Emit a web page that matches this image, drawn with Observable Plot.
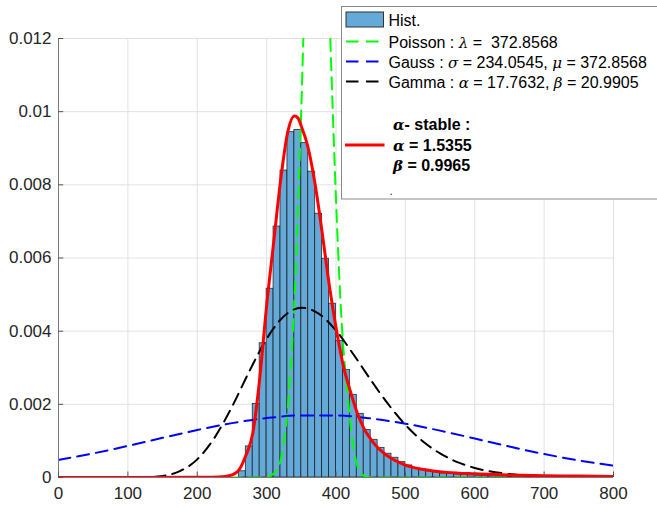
<!DOCTYPE html>
<html>
<head>
<meta charset="utf-8">
<script src="https://cdn.jsdelivr.net/npm/d3@7"></script>
<script src="https://cdn.jsdelivr.net/npm/@observablehq/plot@0.6"></script>
<style>
  html, body { margin: 0; padding: 0; background: white; overflow: hidden; }
  #wrap { position: relative; width: 657px; height: 508px; }
  #legend { position: absolute; left: 341px; top: 6px; }
</style>
</head>
<body>
<div id="wrap"></div>
<script>
// ---- axis ticks ----
const xTicks = [0, 100, 200, 300, 400, 500, 600, 700, 800];
const yTicks = [0, 0.002, 0.004, 0.006, 0.008, 0.01, 0.012];

// ---- histogram (bin start, density), bin width 10 ----
const binWidth = 10;
const binStart = [260, 270, 280, 290, 300, 310, 320, 330, 340, 350,
                  360, 370, 380, 390, 400, 410, 420, 430, 440, 450,
                  460, 470, 480, 490, 500, 510, 520, 530, 540, 550,
                  560, 570, 580, 590, 600, 610, 620, 630, 640, 650,
                  660, 670, 680, 690];
const binDensity = [0.00017, 0.00085, 0.00201, 0.00367, 0.00516, 0.00686, 0.00839, 0.00944, 0.00950, 0.00914,
                    0.00836, 0.00721, 0.00598, 0.00475, 0.00373, 0.00294, 0.00226, 0.00174, 0.00130, 0.00103,
                    0.00081, 0.00065, 0.00054, 0.00042, 0.00033, 0.00026, 0.00022, 0.00017, 0.00014, 0.00011,
                    0.00010, 0.00008, 0.00007, 0.00006, 0.00005, 0.00004, 0.00004, 0.00003, 0.00003, 0.00002,
                    0.00002, 0.00002, 0.00001, 0.00001];

// ---- Poisson fit (green dashed) ----
const poissonX = [0, 200, 280, 290, 300, 310, 320, 325, 330, 335, 340, 345, 350, 355, 360, 372,
                  385, 390, 395, 400, 406, 410, 416, 423, 433, 440, 450, 500, 800];
const poissonY = [0, 0, 0, 0.000003, 0.00002, 0.0001, 0.00045, 0.0010, 0.0018, 0.0031, 0.0048, 0.0072, 0.0101, 0.0134, 0.0166, 0.0207,
                  0.0158, 0.0130, 0.0102, 0.0076, 0.0050, 0.0037, 0.0024, 0.0011, 0.0002, 0.00005, 0, 0, 0];

// ---- Gauss fit (blue dashed) ----
const gaussX = [0, 50, 100, 150, 200, 250, 300, 350, 400, 450, 500, 550, 600, 650, 700, 750, 800];
const gaussY = [0.000479, 0.000658, 0.000864, 0.001084, 0.001298, 0.001486, 0.001624, 0.001697, 0.001694,
                0.001615, 0.001471, 0.001281, 0.001065, 0.000846, 0.000642, 0.000466, 0.000322];

// ---- Gamma fit (black dashed) ----
const gammaX = [0, 100, 125, 150, 175, 200, 225, 250, 275, 300, 325, 350, 375, 400, 425, 450, 475,
                500, 525, 550, 575, 600, 650, 700, 750, 800];
const gammaY = [0, 0, 0.000005, 0.000043, 0.000174, 0.000496, 0.00109, 0.00193, 0.0029, 0.00379, 0.00441, 0.00464, 0.00448,
                0.00402, 0.00337, 0.00267, 0.00201, 0.00144, 0.00099, 0.00066, 0.00042, 0.000262, 0.0000925, 0.00003, 0.00001, 0.000003];

// ---- alpha-stable fit (red solid) ----
const stableX = [0, 100, 200, 220, 240, 250, 260, 270, 280, 290, 300, 310, 320, 330, 340, 345, 350, 360, 370,
                 380, 390, 400, 410, 420, 430, 440, 450, 460, 470, 480, 490, 500, 520, 540, 560, 600,
                 650, 700, 750, 800];
const stableY = [0, 0, 0.000005, 0.00001, 0.00003, 0.00007, 0.0002, 0.0006, 0.0012, 0.0027, 0.0047, 0.0064, 0.0081, 0.0094, 0.00988, 0.00983, 0.0096, 0.0090, 0.0080,
                 0.0067, 0.0053, 0.0041, 0.0031, 0.0024, 0.0018, 0.00135, 0.00105, 0.00082, 0.00065, 0.00052, 0.00042, 0.00034, 0.00024, 0.00018, 0.00014, 0.0001,
                 0.00007, 0.00005, 0.00004, 0.00003];

// ---- legend texts ----
const legendHist = "Hist.";
const legendPoisson = ["Poisson : ", "λ", " =  372.8568"];
const legendGauss = ["Gauss : ", "σ", " = 234.0545, ", "μ", " = 372.8568"];
const legendGamma = ["Gamma : ", "α", " = 17.7632, ", "β", " = 20.9905"];
const legendStable = [["α", "- stable :"], ["α", " = 1.5355"], ["β", " = 0.9965"]];

// ---- tables built from the arrays ----
const bins = binStart.map((s, i) => ({x1: s, x2: s + binWidth, d: binDensity[i]}));
const toPts = (xs, ys) => xs.map((x, i) => ({x, y: ys[i]}));
const poisson = toPts(poissonX, poissonY);
const gauss = toPts(gaussX, gaussY);
const gamma = toPts(gammaX, gammaY);
const stable = toPts(stableX, stableY);

const fmtY = d => d === 0 ? "0" : String(+d.toFixed(4));
const dash = "12,7";

const chart = Plot.plot({
  width: 657,
  height: 508,
  marginLeft: 58,
  marginRight: 44,
  marginTop: 38,
  marginBottom: 31,
  style: {
    fontFamily: "'Liberation Sans', Arial, Helvetica, sans-serif",
    fontSize: "17px",
    color: "#262626",
    background: "white",
    overflow: "visible"
  },
  x: {domain: [0, 800], ticks: xTicks, tickSize: 0, tickPadding: 9, tickFormat: d => String(d), label: null},
  y: {domain: [0, 0.012], ticks: yTicks, tickSize: 0, tickPadding: 7, tickFormat: fmtY, label: null},
  marks: [
    // grid
    Plot.ruleX(xTicks, {stroke: "#e2e2e2", strokeWidth: 1}),
    Plot.ruleY(yTicks, {stroke: "#e2e2e2", strokeWidth: 1}),
    // histogram
    Plot.rectY(bins, {x1: "x1", x2: "x2", y: "d", fill: "#64a9d7", stroke: "#1a1a1a", strokeWidth: 0.8, strokeOpacity: 0.9}),
    // fits
    Plot.line(poisson, {x: "x", y: "y", stroke: "#00ff00", strokeWidth: 2, strokeDasharray: dash, curve: "monotone-x", clip: true}),
    Plot.line(gauss, {x: "x", y: "y", stroke: "#0000ff", strokeWidth: 2, strokeDasharray: dash, curve: "monotone-x", clip: true}),
    Plot.line(gamma, {x: "x", y: "y", stroke: "#000000", strokeWidth: 2, strokeDasharray: dash, curve: "monotone-x", clip: true}),
    Plot.line(stable, {x: "x", y: "y", stroke: "#ff0000", strokeWidth: 3, curve: "monotone-x", clip: true}),
    // axis lines
    Plot.ruleX([0], {stroke: "#7a7a7a", strokeWidth: 1}),
    Plot.ruleY([0], {stroke: "#7a7a7a", strokeWidth: 1}),
    // inward ticks
    Plot.ruleY(yTicks, {x1: 0, x2: 7.5, stroke: "#555", strokeWidth: 1}),
    Plot.ruleX(xTicks, {y1: 0, y2: 0.00015, stroke: "#555", strokeWidth: 1})
  ]
});

const wrap = document.getElementById("wrap");
wrap.appendChild(chart);

// ---- legend overlay ----
const lg = d3.select(wrap).append("svg")
  .attr("id", "legend")
  .attr("width", 330)
  .attr("height", 195)
  .style("font-family", "'Liberation Sans', Arial, Helvetica, sans-serif")
  .style("font-size", "16px");

lg.append("rect").attr("x", 0.5).attr("y", 0.5).attr("width", 340).attr("height", 192.5)
  .attr("fill", "white").attr("stroke", "#8a8a8a").attr("stroke-width", 1);

lg.append("rect").attr("x", 5).attr("y", 6).attr("width", 37.5).attr("height", 15)
  .attr("fill", "#64a9d7").attr("stroke", "#333").attr("stroke-width", 1);
lg.append("text").attr("x", 47.5).attr("y", 20).attr("fill", "#000").text(legendHist);

const greek = "font-family:'DejaVu Serif', 'Liberation Serif', serif; font-style: italic; font-size: 15px;";

function entry(y, color, parts) {
  lg.append("line").attr("x1", 5).attr("x2", 38).attr("y1", y - 6).attr("y2", y - 6)
    .attr("stroke", color).attr("stroke-width", 2.2).attr("stroke-dasharray", "12.5,7.5");
  const t = lg.append("text").attr("x", 47.5).attr("y", y).attr("fill", "#000").attr("xml:space", "preserve");
  parts.forEach((p, i) => {
    const ts = t.append("tspan").text(p);
    if (i % 2 === 1) ts.attr("style", greek);
  });
}
entry(41.5, "#00ff00", legendPoisson);
entry(61.5, "#0000ff", legendGauss);
entry(81.5, "#000000", legendGamma);

lg.append("line").attr("x1", 4).attr("x2", 43.5).attr("y1", 139).attr("y2", 139)
  .attr("stroke", "#ff0000").attr("stroke-width", 3);
const stableBase = [124, 144.5, 164.5];
legendStable.forEach((p, i) => {
  const t = lg.append("text").attr("x", 52).attr("y", stableBase[i]).attr("fill", "#000")
    .attr("font-weight", "bold").attr("xml:space", "preserve");
  t.append("tspan").text(p[0]).attr("style", greek + " font-weight:bold;");
  t.append("tspan").text(p[1]);
});
lg.append("text").attr("x", 48.5).attr("y", 189).attr("fill", "#333").attr("font-size", "12px").text(".");
</script>
</body>
</html>
